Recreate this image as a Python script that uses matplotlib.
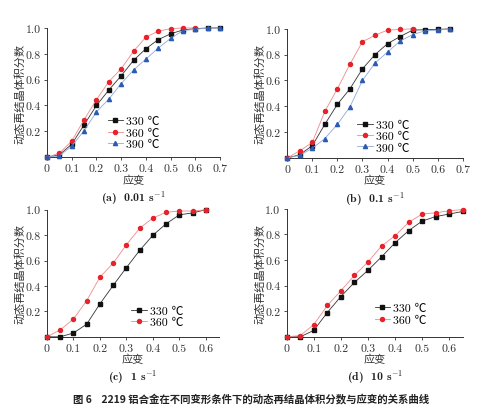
import matplotlib
matplotlib.use("Agg")
import matplotlib.pyplot as plt

plt.rcParams['font.family'] = ['cmr10', 'Noto Sans CJK SC', 'DejaVu Sans']
plt.rcParams['axes.unicode_minus'] = False
plt.rcParams['mathtext.fontset'] = 'cm'

# ---- data ----
strain_a = [0, 0.05, 0.1, 0.15, 0.2, 0.25, 0.3, 0.35, 0.4, 0.45, 0.5, 0.55, 0.6, 0.65, 0.7]
a_330 = [0, 0.018, 0.10, 0.25, 0.40, 0.52, 0.63, 0.75, 0.84, 0.91, 0.955, 0.985, 0.995, 1.0, 1.0]
a_360 = [0, 0.03, 0.125, 0.29, 0.445, 0.585, 0.685, 0.82, 0.93, 0.975, 0.995, 1.0, 1.0]
a_390 = [0, 0.01, 0.085, 0.205, 0.35, 0.45, 0.57, 0.675, 0.76, 0.845, 0.92, 0.98, 0.99, 1.0, 1.0]

strain_b = [0, 0.05, 0.1, 0.15, 0.2, 0.25, 0.3, 0.35, 0.4, 0.45, 0.5, 0.55, 0.6, 0.65]
b_330 = [0, 0.025, 0.095, 0.26, 0.415, 0.535, 0.69, 0.80, 0.885, 0.94, 0.99, 0.993, 0.995, 1.0]
b_360 = [0, 0.055, 0.12, 0.36, 0.535, 0.725, 0.90, 0.95, 0.99, 0.995, 1.0]
b_390 = [0, 0.02, 0.075, 0.15, 0.26, 0.395, 0.60, 0.735, 0.82, 0.905, 0.955, 0.985, 0.99, 1.0]

strain_c = [0, 0.05, 0.1, 0.15, 0.2, 0.25, 0.3, 0.35, 0.4, 0.45, 0.5, 0.55, 0.6]
c_330 = [0, 0.0, 0.03, 0.10, 0.26, 0.405, 0.545, 0.68, 0.80, 0.89, 0.96, 0.975, 1.0]
c_360 = [0, 0.055, 0.14, 0.285, 0.47, 0.58, 0.725, 0.855, 0.935, 0.98, 0.99, 0.99, 1.0]

strain_d = [0, 0.05, 0.1, 0.15, 0.2, 0.25, 0.3, 0.35, 0.4, 0.45, 0.5, 0.55, 0.6, 0.65]
d_330 = [0, 0.0, 0.05, 0.19, 0.315, 0.425, 0.52, 0.625, 0.735, 0.83, 0.905, 0.94, 0.96, 0.98]
d_360 = [0, 0.01, 0.095, 0.245, 0.36, 0.48, 0.585, 0.71, 0.79, 0.895, 0.96, 0.97, 0.985, 0.995]

labels = ['330 ℃', '360 ℃', '390 ℃']
titles = ['(a)  0.01 s$^{\\mathbf{-1}}$', '(b)  0.1 s$^{\\mathbf{-1}}$',
          '(c)  1 s$^{\\mathbf{-1}}$', '(d)  10 s$^{\\mathbf{-1}}$']
xticks_ab = [0, 0.1, 0.2, 0.3, 0.4, 0.5, 0.6, 0.7]
xticks_cd = [0, 0.1, 0.2, 0.3, 0.4, 0.5, 0.6]
yticks = [0.2, 0.4, 0.6, 0.8, 1.0]
xlabel = '应变'
ylabel = '动态再结晶体积分数'
caption = '图 6    2219 铝合金在不同变形条件下的动态再结晶体积分数与应变的关系曲线'

styles = [
    dict(marker='s', color='#333333', mfc='#111111', mec='#111111', ms=2.6),
    dict(marker='o', color='#f08a8a', mfc='#e8222b', mec='#e8222b', ms=2.9),
    dict(marker='^', color='#8fa9d8', mfc='#2a5cb5', mec='#2a5cb5', ms=3.0),
]

fig = plt.figure(figsize=(5.02, 4.14), dpi=100)
boxes = [
    [0.0936, 0.618, 0.345, 0.312],
    [0.572, 0.616, 0.350, 0.312],
    [0.0936, 0.184, 0.343, 0.307],
    [0.571, 0.184, 0.351, 0.309],
]
panels = [
    (strain_a, [a_330, a_360, a_390], 0.7, xticks_ab),
    (strain_b, [b_330, b_360, b_390], 0.7, xticks_ab),
    (strain_c, [c_330, c_360], 0.65, xticks_cd),
    (strain_d, [d_330, d_360], 0.65, xticks_cd),
]
leg_anchor = [(0.35, 0.19), (0.40, 0.17), (0.49, 0.16), (0.50, 0.18)]

for i, (box, (xs, series, xmax, xt)) in enumerate(zip(boxes, panels)):
    ax = fig.add_axes(box)
    for j, ys in enumerate(series):
        st = styles[j]
        ax.plot(xs[:len(ys)], ys, marker=st['marker'], color=st['color'],
                mfc=st['mfc'], mec=st['mec'], ms=st['ms'], lw=0.6,
                label=labels[j], clip_on=False, zorder=3)
    ax.set_xlim(0, xmax)
    ax.set_ylim(0, 1.0)
    ax.set_xticks(xt)
    ax.set_xticklabels([('%g' % v) for v in xt])
    ax.set_yticks(yticks)
    ax.set_yticklabels(['%.1f' % v for v in yticks])
    ax.spines['top'].set_visible(False)
    ax.spines['right'].set_visible(False)
    for s in ['left', 'bottom']:
        ax.spines[s].set_linewidth(0.7)
        ax.spines[s].set_color('#333333')
    ax.tick_params(direction='out', length=2.5, width=0.6, labelsize=8.5,
                   colors='#333333', pad=2)
    ax.set_xlabel(xlabel, fontsize=8, family=['Noto Sans CJK SC'], labelpad=1, color='#333333')
    ax.set_ylabel(ylabel, fontsize=8, family=['Noto Sans CJK SC'], labelpad=0, color='#333333')
    ax.legend(loc='center left', bbox_to_anchor=leg_anchor[i], frameon=False,
              handlelength=1.3, handletextpad=0.25, labelspacing=0.1,
              borderpad=0.0, borderaxespad=0.0,
              prop={'family': ['cmr10', 'Noto Sans CJK SC'], 'size': 8.5})
    ax.set_title(titles[i], y=-0.40, fontsize=8.5, fontweight='bold',
                 family=['cmb10', 'DejaVu Serif'], color='#222222')

fig.text(0.50, 0.036, caption, ha='center', va='center', fontsize=7.5,
         fontweight='bold', family=['Noto Sans CJK SC'], color='#222222')

fig.savefig('out.png', dpi=100)
